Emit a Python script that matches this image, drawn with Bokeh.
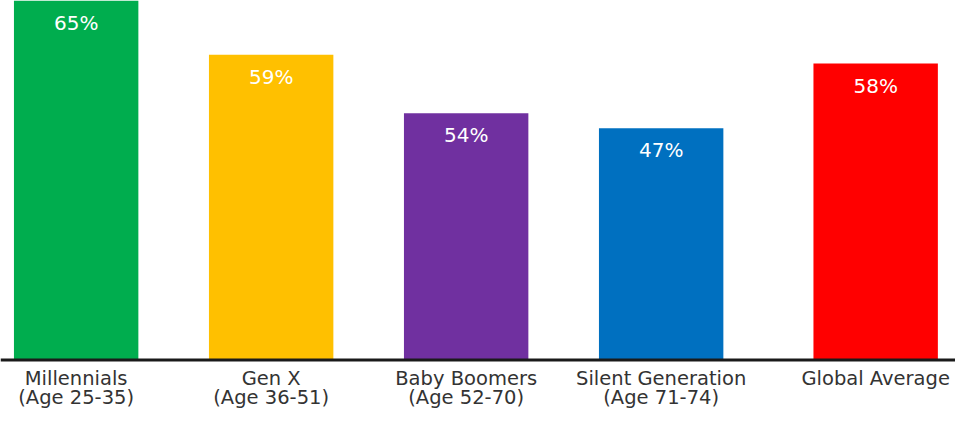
from bokeh.plotting import figure
from bokeh.models import Range1d, Span, ColumnDataSource
from bokeh.core.properties import value
from bokeh.embed import file_html
from bokeh.resources import INLINE

# ---- data ----
categories = ["Millennials", "Gen X", "Baby Boomers", "Silent Generation", "Global Average"]
age_ranges = ["(Age 25-35)", "(Age 36-51)", "(Age 52-70)", "(Age 71-74)", ""]
shares = [65, 59, 54, 47, 58]                    # printed values (%)
bar_heights = [65, 55.2, 44.6, 41.9, 53.6]       # drawn bar heights as they appear
colors = ["#00AD4E", "#FFC000", "#7030A0", "#0070C0", "#FF0000"]

# layout: one unit per generation, a small extra gap before the global average
GROUP_GAP = 0.1
xs = [i + (GROUP_GAP if c == "Global Average" else 0) for i, c in enumerate(categories)]

src = ColumnDataSource(dict(
    x=xs, top=bar_heights, color=colors,
    label=[f"{v}%" for v in shares],
    cat=categories, age=age_ranges,
))

W, H = 955, 409
p = figure(width=W, height=H, output_backend="svg", toolbar_location=None,
           x_range=Range1d(-0.388, -0.388 + W / 195.0),
           y_range=Range1d(-8.95, 65.0),
           min_border=0, min_border_left=0, min_border_right=0,
           min_border_top=0, min_border_bottom=0)
p.axis.visible = False
p.grid.visible = False
p.outline_line_color = None
p.background_fill_color = "white"
p.border_fill_color = "white"

p.vbar(x="x", top="top", bottom=0, width=0.638, color="color", line_color=None, source=src)

p.add_layout(Span(location=0, dimension="width", line_color="#1a1a1a", line_width=3))

font = value("DejaVu Sans")
p.text(x="x", y="top", text="label", source=src, text_font=font,
       text_font_size="20px", text_color="white", text_align="center",
       text_baseline="alphabetic", y_offset=22)

p.text(x="x", y=0, text="cat", source=src, text_font=font,
       text_font_size="19.5px", text_color="#333333", text_align="center",
       text_baseline="alphabetic", y_offset=18.5)
p.text(x="x", y=0, text="age", source=src, text_font=font,
       text_font_size="19.5px", text_color="#333333", text_align="center",
       text_baseline="alphabetic", y_offset=38)

open("out.html", "w").write(file_html(p, INLINE))
